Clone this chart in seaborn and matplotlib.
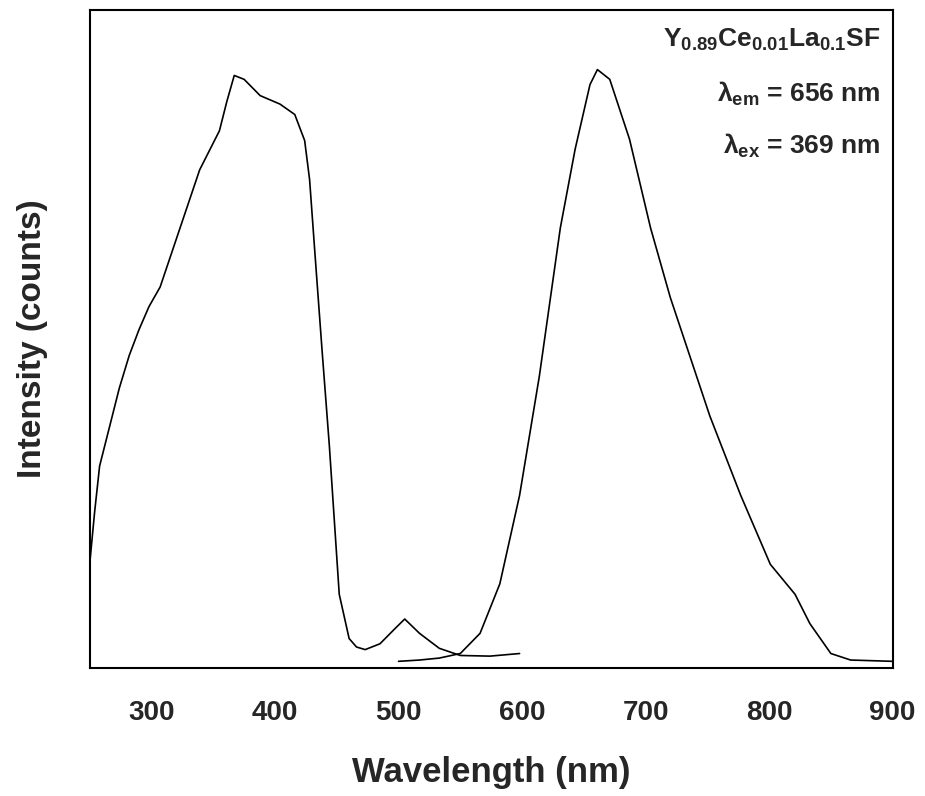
import numpy as np
import pandas as pd
import matplotlib
matplotlib.use("Agg")
import matplotlib.pyplot as plt
import seaborn as sns
from matplotlib.ticker import MultipleLocator

# excitation spectrum (lambda_em = 656 nm), normalised intensity
ex_wl = [250, 254, 258, 266, 274, 282, 290, 298, 307, 315, 323, 331, 339, 347, 355,
         361, 367, 375, 388, 404, 416, 424, 428, 432, 438, 444, 452, 460, 466, 473,
         485, 497, 505, 517, 533, 550, 574, 598]
ex_int = [0.15, 0.23, 0.3, 0.36, 0.42, 0.47, 0.51, 0.545, 0.575, 0.62, 0.665, 0.71,
          0.755, 0.785, 0.815, 0.86, 0.9, 0.894, 0.869, 0.856, 0.84, 0.8, 0.74, 0.635,
          0.48, 0.331, 0.103, 0.035, 0.022, 0.018, 0.027, 0.05, 0.065, 0.043, 0.02,
          0.009, 0.008, 0.012]

# emission spectrum (lambda_ex = 369 nm)
em_wl = [500, 517, 533, 550, 566, 582, 598, 614, 631, 643, 655, 661, 671, 687, 704,
         720, 736, 752, 777, 801, 821, 833, 850, 866, 900]
em_int = [0.0, 0.002, 0.005, 0.012, 0.043, 0.119, 0.255, 0.438, 0.666, 0.787, 0.886,
          0.909, 0.894, 0.802, 0.666, 0.559, 0.468, 0.377, 0.255, 0.149, 0.103, 0.058,
          0.012, 0.002, 0.0]

sns.set_style("white")
plt.rcParams["font.family"] = ["Liberation Sans", "DejaVu Sans"]
plt.rcParams["font.weight"] = "bold"
plt.rcParams["mathtext.fontset"] = "custom"
plt.rcParams["mathtext.rm"] = "Liberation Sans:bold"
plt.rcParams["mathtext.it"] = "Liberation Sans:bold"
plt.rcParams["mathtext.default"] = "regular"

fig = plt.figure(figsize=(9.25, 7.96), dpi=100)
ax = fig.add_axes([0.097, 0.161, 0.868, 0.826])

ex = pd.DataFrame({"wl": ex_wl, "I": ex_int})
em = pd.DataFrame({"wl": em_wl, "I": em_int})
sns.lineplot(data=ex, x="wl", y="I", ax=ax, color="black", linewidth=1.2)
sns.lineplot(data=em, x="wl", y="I", ax=ax, color="black", linewidth=1.2)

ax.set_xlim(250, 900)
ax.set_ylim(-0.01, 1.0)
ax.xaxis.set_major_locator(MultipleLocator(100))
ax.xaxis.set_minor_locator(MultipleLocator(50))
ax.tick_params(axis="x", which="major", direction="out", length=9, width=1.2,
               labelsize=20, pad=14)
ax.tick_params(axis="x", which="minor", direction="out", length=5, width=1.0)
ax.set_yticks([])
for s in ax.spines.values():
    s.set_color("black")
    s.set_linewidth(1.5)

ax.set_xlabel("Wavelength (nm)", fontsize=25, fontweight="bold", labelpad=22)
ax.set_ylabel("Intensity (counts)", fontsize=24, fontweight="bold", labelpad=30)

ax.text(0.985, 0.975, r"Y$_{0.89}$Ce$_{0.01}$La$_{0.1}$SF", transform=ax.transAxes,
        ha="right", va="top", fontsize=19, fontweight="bold")
ax.text(0.985, 0.895, r"$\lambda_{em}$ = 656 nm", transform=ax.transAxes,
        ha="right", va="top", fontsize=19, fontweight="bold")
ax.text(0.985, 0.815, r"$\lambda_{ex}$ = 369 nm", transform=ax.transAxes,
        ha="right", va="top", fontsize=19, fontweight="bold")

fig.savefig("out.png", dpi=100)
